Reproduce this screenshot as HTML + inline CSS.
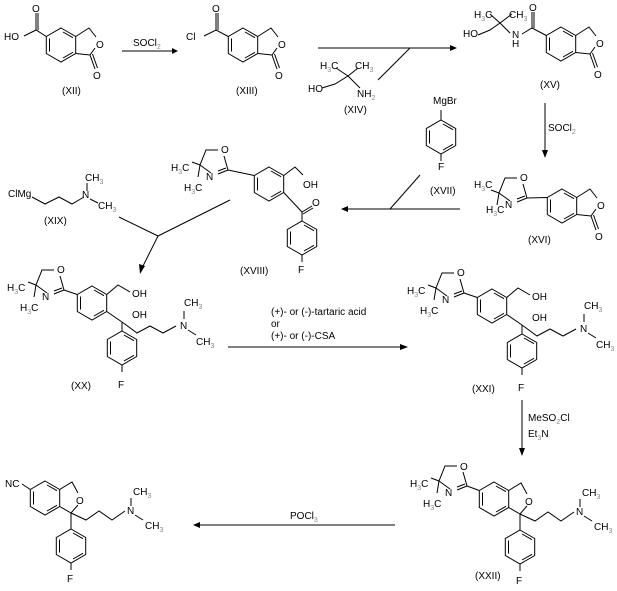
<!DOCTYPE html>
<html><head><meta charset="utf-8"><style>
html,body{margin:0;padding:0;background:#fff}
svg{display:block}
text{font-family:"Liberation Sans",sans-serif;font-size:10px;fill:#000}
.s{font-size:7px;fill:#888}
</style></head><body>
<svg width="617" height="591" viewBox="0 0 617 591" xmlns="http://www.w3.org/2000/svg">
<defs>
<g id="hex" fill="none" stroke="#000" stroke-width="1">
<polygon points="0,-17 14.7,-8.5 14.7,8.5 0,17 -14.7,8.5 -14.7,-8.5"/>
<line x1="-11.5" y1="-6.5" x2="-11.5" y2="6.5"/>
<line x1="2" y1="-13" x2="12" y2="-7.3"/>
<line x1="2" y1="13" x2="12" y2="7.3"/>
</g>
<g id="phth" fill="none" stroke="#000" stroke-width="1">
<use href="#hex"/>
<polyline points="14.7,-8.5 28,-17 35,-8"/>
<polyline points="34,3 29,10 14.7,8.5"/>
<line x1="29" y1="10" x2="34" y2="24"/><line x1="31.5" y1="9" x2="36.5" y2="23"/>
</g>
<g id="oxaz" fill="none" stroke="#000" stroke-width="1">
<line x1="0" y1="0" x2="-4" y2="-14"/>
<polyline points="-10,-20 -22,-20 -28,-5 -17,3"/>
<line x1="-10" y1="4" x2="0" y2="0"/><line x1="-10" y1="1" x2="-2" y2="-2"/>
<line x1="-28" y1="-5" x2="-36" y2="-8"/><line x1="-28" y1="-5" x2="-30" y2="7"/>
</g>
</defs>
<g stroke="#000" stroke-width="1" fill="none">
<use href="#phth" x="61" y="45"/>
<polyline points="46.3,36.5 36,30 24,36"/><line x1="36" y1="30" x2="36" y2="13"/><line x1="38" y1="30" x2="38" y2="13"/>
<line x1="122" y1="51" x2="172" y2="51"/>
<use href="#phth" x="243" y="45"/>
<polyline points="228.3,36.5 216,30 204,36"/><line x1="216" y1="30" x2="216" y2="13"/><line x1="218" y1="30" x2="218" y2="13"/>
<line x1="318" y1="48" x2="450" y2="48"/><line x1="378" y1="80" x2="410" y2="48"/>
<polyline points="322,88 335,84 348,76 360,88"/><line x1="348" y1="76" x2="336" y2="68"/><line x1="348" y1="76" x2="358" y2="68"/>
<use href="#phth" x="561" y="44"/>
<polyline points="546.3,35.5 532,28 522,34"/><line x1="532" y1="28" x2="532" y2="12"/><line x1="534" y1="28" x2="534" y2="12"/>
<polyline points="478,35 490,30 500,23 510,33"/><line x1="500" y1="23" x2="490" y2="14"/><line x1="500" y1="23" x2="512" y2="14"/>
<line x1="545" y1="103" x2="545" y2="150"/>
<use href="#phth" x="562" y="206"/>
<line x1="547.3" y1="197.5" x2="527" y2="198"/>
<use href="#oxaz" x="527" y="198"/>
<use href="#hex" x="441" y="137"/><line x1="441" y1="120" x2="441" y2="110"/><line x1="441" y1="154" x2="441" y2="161"/>
<line x1="460" y1="209" x2="348" y2="209"/><line x1="390" y1="209" x2="420" y2="175"/>
<use href="#hex" x="269" y="184"/>
<line x1="254.3" y1="175.5" x2="228" y2="170"/>
<use href="#oxaz" x="228" y="170"/>
<polyline points="283.7,175.5 295,167 303,175"/>
<line x1="283.7" y1="192.5" x2="302" y2="212"/><line x1="302" y1="212" x2="312" y2="206"/><line x1="303" y1="214" x2="313" y2="208"/>
<line x1="302" y1="212" x2="302" y2="221"/>
<use href="#hex" x="302" y="238"/><line x1="302" y1="255" x2="302" y2="262"/>
<polyline points="32,197 45,204 59,197 72,204 84,197"/><line x1="87" y1="183" x2="87" y2="191"/><line x1="90" y1="199" x2="98" y2="203"/>
<line x1="119" y1="217" x2="158" y2="236"/><line x1="230" y1="200" x2="158" y2="236"/><line x1="158" y1="236" x2="143" y2="266"/>
<g id="xx">
<use href="#hex" x="92" y="303"/>
<line x1="77.3" y1="294.5" x2="64" y2="290"/>
<use href="#oxaz" x="64" y="290"/>
<polyline points="106.7,294.5 118,285 130,292"/>
<line x1="106.7" y1="311.5" x2="122" y2="322"/>
<polyline points="122,322 137,333 150,326 163,333 176,326"/>
<line x1="122" y1="322" x2="122" y2="331"/>
<use href="#hex" x="122" y="348"/><line x1="122" y1="365" x2="122" y2="372"/>
<line x1="184" y1="311" x2="184" y2="319"/><line x1="188" y1="330" x2="196" y2="335"/>
</g>
<use href="#xx" x="400" y="3"/>
<line x1="228" y1="347" x2="400" y2="347"/>
<line x1="522" y1="400" x2="522" y2="448"/>
<g id="x22">
<use href="#hex" x="494" y="499"/>
<polyline points="508.7,490.5 521,483 527,494"/>
<polyline points="527,506 520,514 508.7,507.5"/>
<polyline points="520,514 535,521 548,512 561,521 574,512"/>
<line x1="520" y1="514" x2="520" y2="530"/>
<use href="#hex" x="520" y="547"/><line x1="520" y1="564" x2="520" y2="571"/>
<line x1="580" y1="499" x2="580" y2="507"/><line x1="584" y1="516" x2="592" y2="521"/>
</g>
<line x1="479.3" y1="490.5" x2="467" y2="486"/>
<use href="#oxaz" x="467" y="486"/>
<use href="#x22" x="-449" y="-1"/>
<line x1="30.3" y1="489.5" x2="22" y2="484"/>
<line x1="395" y1="525" x2="200" y2="525"/>
</g>
<g fill="#000" stroke="none">
<polygon points="172,48 178,51 172,54"/>
<polygon points="450,45 457,48 450,51"/>
<polygon points="542,150 545,158 548,150"/>
<polygon points="348,206 341,209 348,212"/>
<polygon points="139,264 140,274 145,266"/>
<polygon points="400,344 408,347 400,350"/>
<polygon points="519,448 522,456 525,448"/>
<polygon points="200,522 193,525 200,528"/>
</g>
<text x="96" y="48">O</text><text x="93" y="79">O</text><text x="4" y="40">HO</text><text x="32" y="12">O</text>
<text x="62" y="94">(XII)</text>
<text x="133" y="46">SOCl<tspan class="s" dy="3">2</tspan></text>
<text x="278" y="48">O</text><text x="275" y="79">O</text><text x="186" y="40">Cl</text><text x="212" y="12">O</text>
<text x="236" y="94">(XIII)</text>
<text x="308" y="92">HO</text><text x="320" y="69">H<tspan class="s" dy="3">3</tspan><tspan dy="-3">C</tspan></text><text x="355" y="69">CH<tspan class="s" dy="3">3</tspan></text>
<text x="357" y="97">NH<tspan class="s" dy="3">2</tspan></text><text x="344" y="113">(XIV)</text>
<text x="463" y="37">HO</text><text x="474" y="18">H<tspan class="s" dy="3">3</tspan><tspan dy="-3">C</tspan></text><text x="509" y="18">CH<tspan class="s" dy="3">3</tspan></text>
<text x="512" y="38">N</text><text x="512" y="47">H</text><text x="529" y="11">O</text>
<text x="596" y="47">O</text><text x="594" y="78">O</text><text x="540" y="88">(XV)</text>
<text x="548" y="131">SOCl<tspan class="s" dy="3">2</tspan></text>
<text x="597" y="209">O</text><text x="595" y="240">O</text><text x="528" y="243">(XVI)</text>
<text x="520" y="181">O</text><text x="505" y="208">N</text><text x="474" y="188">H<tspan class="s" dy="3">3</tspan><tspan dy="-3">C</tspan></text><text x="486" y="213">H<tspan class="s" dy="3">3</tspan><tspan dy="-3">C</tspan></text>
<text x="433" y="104">MgBr</text><text x="438" y="170">F</text><text x="430" y="194">(XVII)</text>
<text x="221" y="153">O</text><text x="206" y="180">N</text><text x="171" y="171">H<tspan class="s" dy="3">3</tspan><tspan dy="-3">C</tspan></text><text x="184" y="191">H<tspan class="s" dy="3">3</tspan><tspan dy="-3">C</tspan></text>
<text x="303" y="188">OH</text><text x="312" y="206">O</text><text x="298" y="273">F</text><text x="240" y="274">(XVIII)</text>
<text x="8" y="197">ClMg</text><text x="82" y="198">N</text><text x="85" y="181">CH<tspan class="s" dy="3">3</tspan></text><text x="98" y="209">CH<tspan class="s" dy="3">3</tspan></text><text x="44" y="224">(XIX)</text>
<g id="xxt">
<text x="57" y="273">O</text><text x="42" y="300">N</text><text x="7" y="291">H<tspan class="s" dy="3">3</tspan><tspan dy="-3">C</tspan></text><text x="20" y="311">H<tspan class="s" dy="3">3</tspan><tspan dy="-3">C</tspan></text>
<text x="132" y="297">OH</text><text x="132" y="318">OH</text><text x="180" y="329">N</text><text x="184" y="306">CH<tspan class="s" dy="3">3</tspan></text><text x="196" y="345">CH<tspan class="s" dy="3">3</tspan></text>
<text x="118" y="388">F</text>
</g>
<use href="#xxt" x="400" y="3"/>
<text x="71" y="389">(XX)</text><text x="472" y="392">(XXI)</text>
<text x="271" y="315">(+)- or (-)-tartaric acid</text><text x="271" y="327">or</text><text x="271" y="339">(+)- or (-)-CSA</text>
<text x="528" y="421">MeSO<tspan class="s" dy="3">2</tspan><tspan dy="-3">Cl</tspan></text><text x="528" y="437">Et<tspan class="s" dy="3">3</tspan><tspan dy="-3">N</tspan></text>
<text x="460" y="470">O</text><text x="445" y="496">N</text><text x="410" y="487">H<tspan class="s" dy="3">3</tspan><tspan dy="-3">C</tspan></text><text x="423" y="507">H<tspan class="s" dy="3">3</tspan><tspan dy="-3">C</tspan></text>
<text x="525" y="505">O</text><text x="576" y="515">N</text><text x="582" y="496">CH<tspan class="s" dy="3">3</tspan></text><text x="594" y="530">CH<tspan class="s" dy="3">3</tspan></text>
<text x="516" y="584">F</text><text x="475" y="579">(XXII)</text>
<text x="5" y="487">NC</text><text x="76" y="504">O</text><text x="127" y="514">N</text><text x="133" y="495">CH<tspan class="s" dy="3">3</tspan></text><text x="145" y="529">CH<tspan class="s" dy="3">3</tspan></text><text x="67" y="582">F</text>
<text x="290" y="519">POCl<tspan class="s" dy="3">3</tspan></text>
</svg>
</body></html>
